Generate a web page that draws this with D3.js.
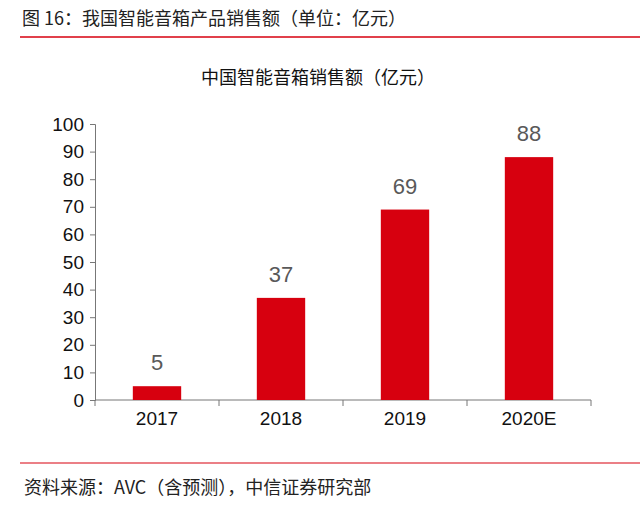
<!DOCTYPE html>
<html><head><meta charset="utf-8">
<script src="https://cdn.jsdelivr.net/npm/d3@7"></script>
<style>body{margin:0;background:#fff}.cjk{font-family:"Noto Sans CJK SC",sans-serif}.num{font-family:"Liberation Sans",Arial,sans-serif}</style>
</head><body>
<svg id="c" width="640" height="520"></svg>
<script>
var years = ["2017", "2018", "2019", "2020E"];
var sales = [5, 37, 69, 88];
var yTicks = [0, 10, 20, 30, 40, 50, 60, 70, 80, 90, 100];

var svg = d3.select("#c");
var red = "#d7000f";

svg.append("text").attr("class", "cjk").attr("x", 22).attr("y", 25).attr("font-size", 18).attr("fill", "#222")
  .text("图 16：我国智能音箱产品销售额（单位：亿元）");
svg.append("line").attr("x1", 20).attr("x2", 640).attr("y1", 37).attr("y2", 37)
  .attr("stroke", red).attr("stroke-width", 1.5);
svg.append("text").attr("class", "cjk").attr("x", 318).attr("y", 84).attr("text-anchor", "middle")
  .attr("font-size", 18).attr("fill", "#111").text("中国智能音箱销售额（亿元）");

var x = d3.scaleBand().domain(years).range([95, 591]).paddingInner(0.61).paddingOuter(0.305);
var y = d3.scaleLinear().domain([0, 100]).range([400, 124]);

var gy = svg.append("g").attr("transform", "translate(95,0)")
  .call(d3.axisLeft(y).tickValues(yTicks).tickSize(5).tickPadding(6));
gy.selectAll("text").attr("class", "num").attr("font-size", 19).attr("fill", "#111");
gy.selectAll("line,path").attr("stroke", "#777");

var gx = svg.append("g").attr("transform", "translate(0,400)")
  .call(d3.axisBottom(x).tickSize(0).tickPadding(12));
gx.selectAll("text").attr("class", "num").attr("font-size", 19).attr("fill", "#111");
gx.select("path").attr("stroke", "#777").attr("d", "M95,0H591");
var bounds = d3.range(years.length + 1).map(function(i){ return 95 + i * x.step(); });
gx.selectAll(".sep").data(bounds).enter().append("line").attr("class", "sep")
  .attr("x1", function(d){return d;}).attr("x2", function(d){return d;})
  .attr("y1", 0).attr("y2", 6).attr("stroke", "#777");

svg.selectAll(".bar").data(sales).enter().append("rect").attr("class", "bar")
  .attr("x", function(d, i){ return x(years[i]); })
  .attr("width", x.bandwidth())
  .attr("y", function(d){ return y(d); })
  .attr("height", function(d){ return y(0) - y(d); })
  .attr("fill", red);

svg.selectAll(".lbl").data(sales).enter().append("text").attr("class", "lbl num")
  .attr("x", function(d, i){ return x(years[i]) + x.bandwidth() / 2; })
  .attr("y", function(d){ return y(d) - 16; })
  .attr("text-anchor", "middle")
  .attr("font-size", 22).attr("fill", "#595959").text(function(d){ return d; });

svg.append("line").attr("x1", 20).attr("x2", 640).attr("y1", 463).attr("y2", 463)
  .attr("stroke", red).attr("stroke-width", 1.2);
svg.append("text").attr("class", "cjk").attr("x", 24).attr("y", 494).attr("font-size", 18).attr("fill", "#222")
  .text("资料来源：AVC（含预测），中信证券研究部");
</script>
</body></html>
